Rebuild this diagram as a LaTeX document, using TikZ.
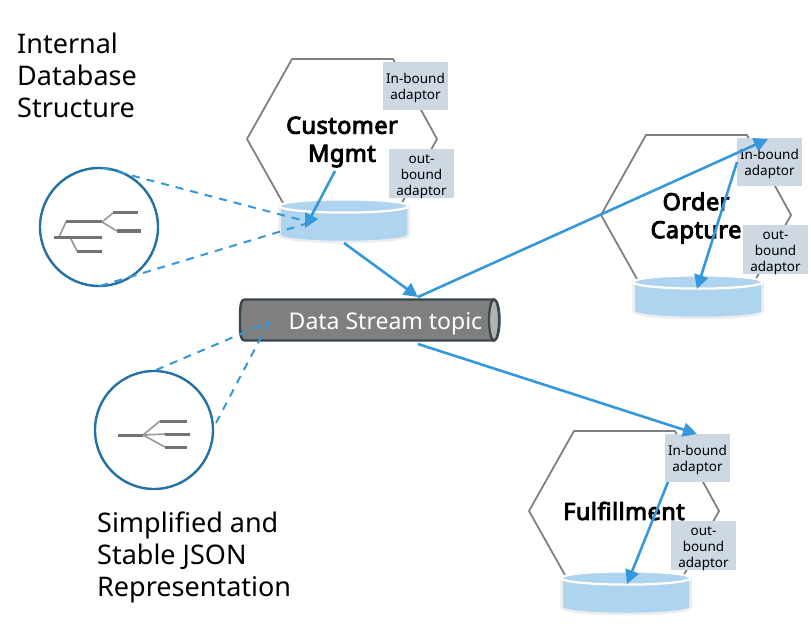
\documentclass[tikz,border=0pt]{standalone}
\usepackage{fontspec}
\setmainfont{Noto Sans}
\newfontfamily\titlefont{Noto Sans}[FakeBold=4,LetterSpace=2]
\usetikzlibrary{arrows.meta}
\definecolor{flow}{HTML}{3498DB}
\definecolor{ring}{HTML}{2471A3}
\definecolor{hexline}{HTML}{808080}
\definecolor{store}{HTML}{AED4EF}
\definecolor{halo}{HTML}{EDEDED}
\definecolor{adaptorfill}{HTML}{CDD8E3}
\definecolor{topicline}{HTML}{37474F}
\definecolor{topicfill}{HTML}{7F7F7F}
\tikzset{
  hexshape/.style={draw=hexline,line width=1.8pt,line join=round},
  adaptorbox/.style={fill=adaptorfill,draw=none,inner sep=0pt,minimum width=65pt},
  adaptortext/.style={inner sep=0pt,align=center,font=\fontsize{13.5}{16}\selectfont},
  svctitle/.style={align=center,inner sep=0pt,font=\fontsize{23.5}{28}\selectfont\titlefont},
  flowarrow/.style={draw=flow,line width=2.6pt,-{Triangle[length=14pt,width=14pt]}},
  zoomline/.style={draw=flow,line width=2pt,dash pattern=on 8pt off 7pt},
  zoomring/.style={draw=ring,line width=2.4pt,fill=white,circle,minimum size=118pt,inner sep=0pt},
  caption/.style={align=left,anchor=north west,inner sep=0pt,font=\fontsize{27}{32}\selectfont},
  treebar/.style={draw=black!55,line width=3pt},
  treelink/.style={draw=black!40,line width=1.6pt},
}
% One service: hexagon, data store and two adaptors.
\newcommand{\servicegroup}[3]{%
  \begin{scope}[shift={(#2,#3)}]
    \draw[hexshape] (292,59) -- (393,59) -- (437,139) -- (393,219) -- (292,219) -- (247,139) -- cycle;
    \path[fill=store,draw=halo,line width=2.5pt]
      (279.5,206) arc[start angle=180,end angle=360,x radius=64.5pt,y radius=6.5pt]
      -- (408.5,235.5) arc[start angle=0,end angle=-180,x radius=64.5pt,y radius=6.5pt] -- cycle;
    \path[fill=store,draw=white,line width=2pt]
      (344,206) ellipse[x radius=64.5pt,y radius=6.5pt];
    \coordinate (#1store) at (344,222);
    \node[adaptorbox,minimum height=48pt] (#1in) at (415.5,86) {};
    \node[adaptortext] (#1inlabel) at (415.5,88) {In-bound\\adaptor};
    \node[adaptorbox,minimum height=49pt] (#1out) at (421.5,173.5) {};
    \node[adaptortext] (#1outlabel) at (421.5,176.5) {out-\\bound\\adaptor};
  \end{scope}
}
\begin{document}
\begin{tikzpicture}[x=1pt,y=-1pt]
\useasboundingbox (0,0) rectangle (811,631);

\node[caption] (internal) at (17,32.5) {Internal\\Database\\Structure};
\node[caption] (simple) at (97,512) {Simplified and\\Stable JSON\\Representation};

\servicegroup{cm}{0}{0}
\servicegroup{oc}{354}{76}
\servicegroup{ff}{282}{372}

\node[svctitle] (cmname) at (342,142) {Customer\\Mgmt};
\node[svctitle] (ocname) at (696,218) {Order\\Capture};
\node[svctitle] (ffname) at (624,511) {Fulfillment};

% Topic drawn as a horizontal tube
\path[fill=topicfill,draw=topicline,line width=2.4pt,line join=round]
  (245,299.5) -- (494,299.5) arc[start angle=90,end angle=-90,x radius=5.5pt,y radius=20.5pt]
  -- (245,340.5) .. controls (241,340.5) and (240,337) .. (240,320)
  .. controls (240,303) and (241,299.5) .. (245,299.5) -- cycle;
\path[fill=black!30,draw=topicline,line width=2.2pt]
  (494,320) ellipse[x radius=5pt,y radius=20.5pt];
\node[inner sep=0pt,text=white,font=\fontsize{23}{26}\selectfont] (topic) at (385.5,324) {Data Stream topic};

% Magnifier circles with their trees
\node[zoomring] (ringa) at (99,227) {};
\node[zoomring] (ringb) at (154,430) {};

\draw[treelink] (59,237) -- (66,222) (102,222) -- (113,213) (102,222) -- (117,231) (70,237) -- (77,251);
\draw[treebar] (54,237) -- (102,237) (66,222) -- (102,222) (113,213) -- (138,213)
  (117,231) -- (141,231) (77,251) -- (102,251);

\draw[treelink] (143,435) -- (160,421) (143,435) -- (165,434) (143,435) -- (165,447);
\draw[treebar] (118,435) -- (143,435) (160,421) -- (187,421) (165,434) -- (190,434) (165,447) -- (187,447);

% Zoom guide lines
\coordinate (guideA) at (305,221);
\coordinate (guideB) at (305,224);
\coordinate (guideC) at (269,322);
\coordinate (ringaTop) at (103,168);
\coordinate (ringaBot) at (100,286);
\coordinate (ringbTop) at (156,370);
\coordinate (ringbSide) at (216,423);
\draw[zoomline] (ringaTop) -- (guideA);
\draw[zoomline] (ringaBot) -- (guideB);
\draw[zoomline] (ringbTop) -- (guideC);
\draw[zoomline] (ringbSide) -- (guideC);

% Data flow arrows
\coordinate (cmfrom) at (335,171);
\coordinate (cmtip) at (305,228);
\coordinate (cmdrain) at (344,243);
\coordinate (topictop) at (418,297);
\coordinate (topicbot) at (418,344);
\coordinate (octip) at (768,139);
\coordinate (ocfrom) at (737,162);
\coordinate (ocstoretip) at (697,289);
\coordinate (fftip) at (697,434);
\coordinate (fffrom) at (668,482);
\coordinate (ffstoretip) at (627,584);
\draw[flowarrow] (cmfrom) -- (cmtip);
\draw[flowarrow] (cmdrain) -- (topictop);
\draw[flowarrow] (topictop) -- (octip);
\draw[flowarrow] (ocfrom) -- (ocstoretip);
\draw[flowarrow] (topicbot) -- (fftip);
\draw[flowarrow] (fffrom) -- (ffstoretip);
\end{tikzpicture}
\end{document}
